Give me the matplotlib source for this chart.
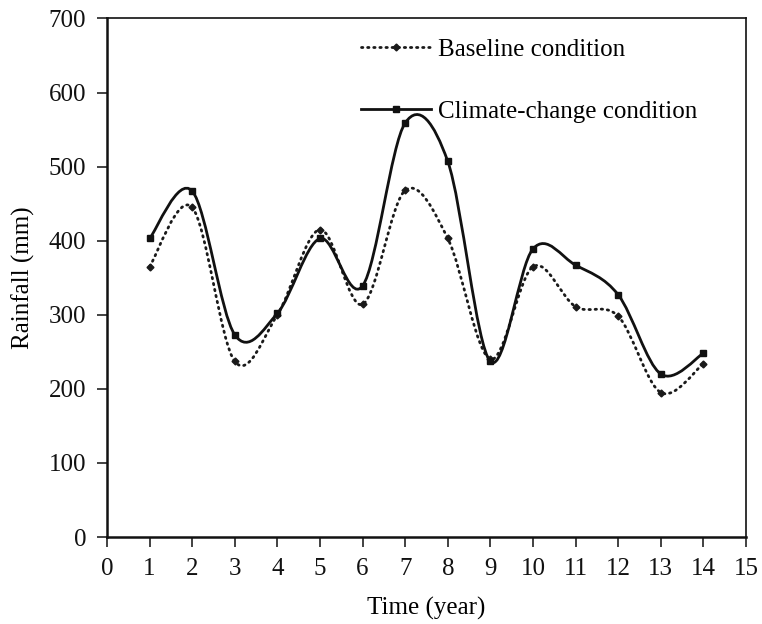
import numpy as np
import matplotlib
matplotlib.use('Agg')
import matplotlib.pyplot as plt
from matplotlib.path import Path
from matplotlib.patches import PathPatch
from matplotlib.lines import Line2D

# Data
years = [1, 2, 3, 4, 5, 6, 7, 8, 9, 10, 11, 12, 13, 14]
baseline = [365, 445, 237, 300, 415, 314, 468, 403, 240, 365, 311, 298, 195, 234]
climate = [403, 467, 273, 302, 403, 339, 559, 507, 237, 389, 367, 327, 220, 248]

x_ticks = list(range(0, 16))
y_ticks = list(range(0, 701, 100))

plt.rcParams['font.family'] = ['Liberation Serif', 'DejaVu Serif']
plt.rcParams['font.size'] = 18

DOTS = (0, (0.5, 1.7))


def smooth_path(xs, ys):
    # Excel-like smoothed line: Catmull-Rom segments as cubic Beziers
    pts = np.column_stack([xs, ys]).astype(float)
    n = len(pts)
    verts = [pts[0]]
    codes = [Path.MOVETO]
    for i in range(n - 1):
        p0 = pts[i - 1] if i > 0 else pts[i]
        p1 = pts[i]
        p2 = pts[i + 1]
        p3 = pts[i + 2] if i + 2 < n else pts[i + 1]
        c1 = p1 + (p2 - p0) / 6.0
        c2 = p2 - (p3 - p1) / 6.0
        verts += [c1, c2, p2]
        codes += [Path.CURVE4] * 3
    return Path(verts, codes)


fig = plt.figure(figsize=(7.62, 6.24), dpi=100)
ax = fig.add_axes([0.1404, 0.1394, 0.8386, 0.831])

ax.add_patch(PathPatch(smooth_path(years, baseline), facecolor='none',
                       edgecolor='#1a1a1a', lw=2.0, linestyle=DOTS,
                       capstyle='round'))
ax.add_patch(PathPatch(smooth_path(years, climate), facecolor='none',
                       edgecolor='#111111', lw=2.0))
ax.plot(years, baseline, linestyle='none', marker='D', markersize=3.5,
        color='#1a1a1a')
ax.plot(years, climate, linestyle='none', marker='s', markersize=4.5,
        color='#111111')

ax.set_xlim(0, 15)
ax.set_ylim(0, 700)
ax.set_xticks(x_ticks)
ax.set_yticks(y_ticks)
ax.tick_params(direction='out', length=7, width=1.2, colors='#222222',
               labelcolor='#111111', pad=8)
for side in ['left', 'bottom']:
    ax.spines[side].set_linewidth(1.8)
for side in ['top', 'right']:
    ax.spines[side].set_linewidth(1.2)
for sp in ax.spines.values():
    sp.set_color('#111111')

ax.set_xlabel('Time (year)', labelpad=12)
ax.set_ylabel('Rainfall (mm)', labelpad=10)

handles = [
    Line2D([], [], color='#1a1a1a', lw=2.0, linestyle=DOTS,
           dash_capstyle='round', marker='D', markersize=3.5),
    Line2D([], [], color='#111111', lw=2.0, marker='s', markersize=4.5),
]
ax.legend(handles, ['Baseline condition', 'Climate-change condition'],
          loc='upper left', bbox_to_anchor=(0.37, 0.995), frameon=False,
          numpoints=1, handlelength=2.8, handletextpad=0.3, labelspacing=1.57,
          borderpad=0.2)

fig.savefig('out.png', dpi=100)
